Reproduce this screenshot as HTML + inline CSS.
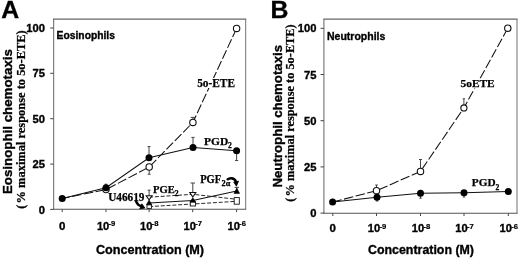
<!DOCTYPE html>
<html><head><meta charset="utf-8"><title>Chemotaxis</title>
<style>
html,body{margin:0;padding:0;background:#fff;}
body{width:520px;height:259px;overflow:hidden;font-family:"Liberation Sans",sans-serif;}
svg{display:block;will-change:transform;filter:grayscale(1) blur(0.4px);}
text{fill:#000;}
.sb{font-family:"Liberation Sans",sans-serif;font-weight:bold;stroke:#000;stroke-width:0.35px;}
.tb{font-family:"Liberation Serif",serif;font-weight:bold;stroke:#000;stroke-width:0.25px;}
</style></head><body>
<svg width="520" height="259" viewBox="0 0 520 259">
<rect width="520" height="259" fill="#fff"/>

<path d="M53.6 209.3V19.1" stroke="#808080" stroke-width="1.25" fill="none"/>
<path d="M245.6 19.1V209.3" stroke="#8c8c8c" stroke-width="1.25" fill="none"/>
<path d="M53.0 19.1H246.2" stroke="#666" stroke-width="1.2" fill="none"/>
<path d="M53.0 209.3H246.2" stroke="#555" stroke-width="1.1" fill="none"/>
<line x1="50.2" y1="209.4" x2="53.6" y2="209.4" stroke="#444" stroke-width="1"/>
<text class="sb" x="45.0" y="213.5" font-size="11.2" text-anchor="end">0</text>
<line x1="50.2" y1="164.1" x2="53.6" y2="164.1" stroke="#444" stroke-width="1"/>
<text class="sb" x="45.0" y="168.2" font-size="11.2" text-anchor="end">25</text>
<line x1="50.2" y1="118.7" x2="53.6" y2="118.7" stroke="#444" stroke-width="1"/>
<text class="sb" x="45.0" y="122.8" font-size="11.2" text-anchor="end">50</text>
<line x1="50.2" y1="73.3" x2="53.6" y2="73.3" stroke="#444" stroke-width="1"/>
<text class="sb" x="45.0" y="77.4" font-size="11.2" text-anchor="end">75</text>
<line x1="50.2" y1="28.0" x2="53.6" y2="28.0" stroke="#444" stroke-width="1"/>
<text class="sb" x="45.0" y="32.1" font-size="11.2" text-anchor="end">100</text>
<line x1="62.2" y1="209.3" x2="62.2" y2="212.10000000000002" stroke="#444" stroke-width="1"/>
<text class="sb" x="62.2" y="229.7" font-size="11.5" text-anchor="middle">0</text>
<line x1="106" y1="209.3" x2="106" y2="212.10000000000002" stroke="#444" stroke-width="1"/>
<text class="sb" x="96.9" y="229.7" font-size="11.7" textLength="12.4" lengthAdjust="spacingAndGlyphs">10</text>
<text class="sb" x="108.5" y="226.39999999999998" font-size="7.4" textLength="6.8" lengthAdjust="spacingAndGlyphs" style="stroke-width:0.2px">-9</text>
<line x1="149.1" y1="209.3" x2="149.1" y2="212.10000000000002" stroke="#444" stroke-width="1"/>
<text class="sb" x="140.0" y="229.7" font-size="11.7" textLength="12.4" lengthAdjust="spacingAndGlyphs">10</text>
<text class="sb" x="151.6" y="226.39999999999998" font-size="7.4" textLength="6.8" lengthAdjust="spacingAndGlyphs" style="stroke-width:0.2px">-8</text>
<line x1="192.7" y1="209.3" x2="192.7" y2="212.10000000000002" stroke="#444" stroke-width="1"/>
<text class="sb" x="183.6" y="229.7" font-size="11.7" textLength="12.4" lengthAdjust="spacingAndGlyphs">10</text>
<text class="sb" x="195.2" y="226.39999999999998" font-size="7.4" textLength="6.8" lengthAdjust="spacingAndGlyphs" style="stroke-width:0.2px">-7</text>
<line x1="236.6" y1="209.3" x2="236.6" y2="212.10000000000002" stroke="#444" stroke-width="1"/>
<text class="sb" x="227.5" y="229.7" font-size="11.7" textLength="12.4" lengthAdjust="spacingAndGlyphs">10</text>
<text class="sb" x="239.1" y="226.39999999999998" font-size="7.4" textLength="6.8" lengthAdjust="spacingAndGlyphs" style="stroke-width:0.2px">-6</text>
<path d="M323.9 213.2V19.2" stroke="#808080" stroke-width="1.25" fill="none"/>
<path d="M517.0 19.2V213.2" stroke="#8c8c8c" stroke-width="1.25" fill="none"/>
<path d="M323.29999999999995 19.2H517.6" stroke="#666" stroke-width="1.2" fill="none"/>
<path d="M323.29999999999995 213.2H517.6" stroke="#555" stroke-width="1.1" fill="none"/>
<line x1="320.5" y1="213.1" x2="323.9" y2="213.1" stroke="#444" stroke-width="1"/>
<text class="sb" x="316.4" y="217.2" font-size="11.2" text-anchor="end">0</text>
<line x1="320.5" y1="166.9" x2="323.9" y2="166.9" stroke="#444" stroke-width="1"/>
<text class="sb" x="316.4" y="171.0" font-size="11.2" text-anchor="end">25</text>
<line x1="320.5" y1="120.7" x2="323.9" y2="120.7" stroke="#444" stroke-width="1"/>
<text class="sb" x="316.4" y="124.8" font-size="11.2" text-anchor="end">50</text>
<line x1="320.5" y1="74.5" x2="323.9" y2="74.5" stroke="#444" stroke-width="1"/>
<text class="sb" x="316.4" y="78.6" font-size="11.2" text-anchor="end">75</text>
<line x1="320.5" y1="28.3" x2="323.9" y2="28.3" stroke="#444" stroke-width="1"/>
<text class="sb" x="316.4" y="32.4" font-size="11.2" text-anchor="end">100</text>
<line x1="332.8" y1="213.2" x2="332.8" y2="216.0" stroke="#444" stroke-width="1"/>
<text class="sb" x="332.8" y="232.1" font-size="11.5" text-anchor="middle">0</text>
<line x1="376.5" y1="213.2" x2="376.5" y2="216.0" stroke="#444" stroke-width="1"/>
<text class="sb" x="367.79999999999995" y="232.1" font-size="11.7" textLength="12.4" lengthAdjust="spacingAndGlyphs">10</text>
<text class="sb" x="379.4" y="228.79999999999998" font-size="7.4" textLength="6.8" lengthAdjust="spacingAndGlyphs" style="stroke-width:0.2px">-9</text>
<line x1="420.5" y1="213.2" x2="420.5" y2="216.0" stroke="#444" stroke-width="1"/>
<text class="sb" x="411.79999999999995" y="232.1" font-size="11.7" textLength="12.4" lengthAdjust="spacingAndGlyphs">10</text>
<text class="sb" x="423.4" y="228.79999999999998" font-size="7.4" textLength="6.8" lengthAdjust="spacingAndGlyphs" style="stroke-width:0.2px">-8</text>
<line x1="464" y1="213.2" x2="464" y2="216.0" stroke="#444" stroke-width="1"/>
<text class="sb" x="455.29999999999995" y="232.1" font-size="11.7" textLength="12.4" lengthAdjust="spacingAndGlyphs">10</text>
<text class="sb" x="466.9" y="228.79999999999998" font-size="7.4" textLength="6.8" lengthAdjust="spacingAndGlyphs" style="stroke-width:0.2px">-7</text>
<line x1="508.3" y1="213.2" x2="508.3" y2="216.0" stroke="#444" stroke-width="1"/>
<text class="sb" x="499.59999999999997" y="232.1" font-size="11.7" textLength="12.4" lengthAdjust="spacingAndGlyphs">10</text>
<text class="sb" x="511.2" y="228.79999999999998" font-size="7.4" textLength="6.8" lengthAdjust="spacingAndGlyphs" style="stroke-width:0.2px">-6</text>
<text class="sb" x="1.2" y="18.4" font-size="24.8">A</text>
<text class="sb" x="270.4" y="18.3" font-size="24.8">B</text>
<text class="sb" x="56.6" y="38.7" font-size="10.3">Eosinophils</text>
<text class="sb" x="327" y="39.5" font-size="10.5">Neutrophils</text>
<text class="sb" transform="translate(12,121.6) rotate(-90)" font-size="13.2" textLength="145" lengthAdjust="spacingAndGlyphs" text-anchor="middle">Eosinophil chemotaxis</text>
<text class="tb" transform="translate(25.2,208.8) rotate(-90)" font-size="12.45">(<tspan dx="1.2">% maximal response to 5o-ETE)</tspan></text>
<text class="sb" transform="translate(282.3,116.25) rotate(-90)" font-size="13.2" textLength="142.7" lengthAdjust="spacingAndGlyphs" text-anchor="middle">Neutrophil chemotaxis</text>
<text class="tb" transform="translate(294.4,201.7) rotate(-90)" font-size="12.36">(<tspan dx="1.2">% maximal response to 5o-ETE)</tspan></text>
<text class="sb" x="95.9" y="253.7" font-size="12.9" textLength="108.2" lengthAdjust="spacingAndGlyphs">Concentration (M)</text>
<text class="sb" x="368" y="253.7" font-size="12.9" textLength="106" lengthAdjust="spacingAndGlyphs">Concentration (M)</text>
<path d="M149.0 158.0V146.6M147.5 146.6H150.5" stroke="#444" stroke-width="1" fill="none"/>
<path d="M193.0 147.5V137.4M191.4 137.4H194.6" stroke="#444" stroke-width="1" fill="none"/>
<path d="M236.6 150.8V160.5M235.0 160.5H238.2" stroke="#444" stroke-width="1" fill="none"/>
<path d="M149.2 167.0V174.2M147.7 174.2H150.7" stroke="#444" stroke-width="1" fill="none"/>
<path d="M192.9 122.4V117.4M190.7 117.4H195.1" stroke="#444" stroke-width="1" fill="none"/>
<path d="M106.0 187.8V184.2M104.7 184.2H107.3" stroke="#444" stroke-width="1" fill="none"/>
<path d="M149.1 197.0V190.2M147.6 190.2H150.6" stroke="#444" stroke-width="1" fill="none"/>
<path d="M192.8 194.3V183.0M190.6 183.0H195.0" stroke="#444" stroke-width="1" fill="none"/>
<path d="M236.8 191.0V187.4M234.6 187.4H239.0" stroke="#444" stroke-width="1" fill="none"/>
<polyline points="236.6,28.4 192.9,122.4 149.2,167.0 106.0,189.6 62.2,198.4" fill="none" stroke="#111" stroke-width="1.05" stroke-dasharray="9.5 2.5"/>
<polyline points="62.2,198.4 106.0,187.8 149.0,157.8 193.0,147.5 236.6,150.8" fill="none" stroke="#111" stroke-width="1.05"/>
<polyline points="149.1,197.2 192.8,194.3 236.8,199.3" fill="none" stroke="#111" stroke-width="0.9" stroke-dasharray="4 1.8"/>
<polyline points="149.1,203.0 192.8,200.4 236.8,191.0" fill="none" stroke="#111" stroke-width="1.05"/>
<polyline points="149.2,206.6 192.9,204.0 236.8,201.3" fill="none" stroke="#111" stroke-width="0.9" stroke-dasharray="4 1.8"/>
<circle cx="106.0" cy="189.6" r="3.2" fill="#fff" stroke="#111" stroke-width="1.1"/>
<circle cx="149.2" cy="167.0" r="3.2" fill="#fff" stroke="#111" stroke-width="1.1"/>
<circle cx="192.9" cy="122.4" r="3.2" fill="#fff" stroke="#111" stroke-width="1.1"/>
<circle cx="236.6" cy="28.4" r="3.2" fill="#fff" stroke="#111" stroke-width="1.1"/>
<circle cx="62.2" cy="198.4" r="3.5" fill="#000"/>
<circle cx="106.0" cy="187.8" r="3.5" fill="#000"/>
<circle cx="149.0" cy="157.8" r="3.5" fill="#000"/>
<circle cx="193.0" cy="147.5" r="3.5" fill="#000"/>
<circle cx="236.6" cy="150.8" r="3.5" fill="#000"/>
<polygon points="146.2,195.8 152.0,195.8 149.1,199.8" fill="#fff" stroke="#111" stroke-width="1.1"/>
<polygon points="189.8,192.5 195.8,192.5 192.8,197.0" fill="#fff" stroke="#111" stroke-width="1.1"/>
<rect x="147.0" y="204.8" width="4.4" height="3.6" fill="#fff" stroke="#111" stroke-width="0.9"/>
<rect x="190.3" y="202.0" width="5.2" height="4.0" fill="#fff" stroke="#111" stroke-width="0.9"/>
<rect x="234.2" y="197.6" width="5.1" height="6.6" fill="#fff" stroke="#111" stroke-width="0.9"/>
<polygon points="146.4,204.7 151.8,204.7 149.1,200.1" fill="#000" stroke="#000" stroke-width="0.6" stroke-linejoin="round"/>
<polygon points="189.9,202.1 195.7,202.1 192.8,197.8" fill="#000" stroke="#000" stroke-width="0.6" stroke-linejoin="round"/>
<polygon points="234.0,193.4 239.6,193.4 236.8,188.2" fill="#000" stroke="#000" stroke-width="0.6" stroke-linejoin="round"/>
<rect x="196" y="78" width="40" height="10" fill="#fff"/><text class="tb" x="197.2" y="86.5" font-size="11.8" textLength="37.8" lengthAdjust="spacingAndGlyphs">5o-ETE</text>
<text class="tb" x="204" y="144.8" font-size="11.4" textLength="24.2" lengthAdjust="spacingAndGlyphs">PGD</text><text class="tb" x="228" y="147.9" font-size="7.6">2</text>
<text class="tb" x="153" y="193.4" font-size="11.2" textLength="21.8" lengthAdjust="spacingAndGlyphs">PGE</text><text class="tb" x="174.8" y="196.4" font-size="7.6">2</text>
<text class="tb" x="200.2" y="183.1" font-size="11.6" textLength="21" lengthAdjust="spacingAndGlyphs">PGF</text><text class="tb" x="221.6" y="185.9" font-size="8.3">2&#945;</text>
<text class="tb" x="108.2" y="200.7" font-size="11.5" textLength="36.3" lengthAdjust="spacingAndGlyphs">U46619</text>
<path d="M136.2 201.6 Q137.4 205 141.6 206.4" stroke="#000" stroke-width="2.5" fill="none" stroke-linecap="round"/><polygon points="144.9,208.1 139.8,208.9 141.9,203.8" fill="#000" stroke="#000" stroke-width="0.8" stroke-linejoin="round"/>
<path d="M227.6 179.3 Q233.6 176.6 236 181.6" stroke="#000" stroke-width="2.4" fill="none" stroke-linecap="round"/><polygon points="236.4,186.2 233.7,182.0 238.5,181.2" fill="#000" stroke="#000" stroke-width="0.8" stroke-linejoin="round"/>
<path d="M376.5 190.7V185.0M375.2 185.0H377.8" stroke="#444" stroke-width="1" fill="none"/>
<path d="M420.5 171.4V159.5M419.0 159.5H422.0" stroke="#444" stroke-width="1" fill="none"/>
<path d="M463.9 107.9V98.8M462.7 98.8H465.1" stroke="#444" stroke-width="1" fill="none"/>
<path d="M420.5 193.2V198.2M419.3 198.2H421.7" stroke="#444" stroke-width="1" fill="none"/>
<path d="M464.0 192.8V197.0M462.8 197.0H465.2" stroke="#444" stroke-width="1" fill="none"/>
<path d="M377.0 197.2V201.0M375.8 201.0H378.2" stroke="#444" stroke-width="1" fill="none"/>
<polyline points="507.8,28.2 463.9,107.9 420.5,171.4 376.5,190.7 332.6,202.1" fill="none" stroke="#111" stroke-width="1.05" stroke-dasharray="9.5 2.5"/>
<polyline points="332.6,202.1 377.0,197.2 420.5,193.2 464.0,192.8 508.3,191.6" fill="none" stroke="#111" stroke-width="1.05"/>
<circle cx="376.5" cy="190.7" r="3.2" fill="#fff" stroke="#111" stroke-width="1.1"/>
<circle cx="420.5" cy="171.4" r="3.2" fill="#fff" stroke="#111" stroke-width="1.1"/>
<circle cx="463.9" cy="107.9" r="3.05" fill="#fff" stroke="#111" stroke-width="1.1"/>
<circle cx="507.8" cy="28.2" r="3.2" fill="#fff" stroke="#111" stroke-width="1.1"/>
<circle cx="332.6" cy="202.1" r="3.5" fill="#000"/>
<circle cx="377.0" cy="197.2" r="3.5" fill="#000"/>
<circle cx="420.5" cy="193.2" r="3.5" fill="#000"/>
<circle cx="464.0" cy="192.8" r="3.5" fill="#000"/>
<circle cx="508.3" cy="191.6" r="3.5" fill="#000"/>
<rect x="459.5" y="78.5" width="36.5" height="10" fill="#fff"/><text class="tb" x="460.5" y="87.2" font-size="11.4" textLength="34.2" lengthAdjust="spacingAndGlyphs">5oETE</text>
<text class="tb" x="471.8" y="185.9" font-size="11.2" textLength="23.8" lengthAdjust="spacingAndGlyphs">PGD</text><text class="tb" x="495.5" y="189.6" font-size="7.6">2</text>
</svg></body></html>
